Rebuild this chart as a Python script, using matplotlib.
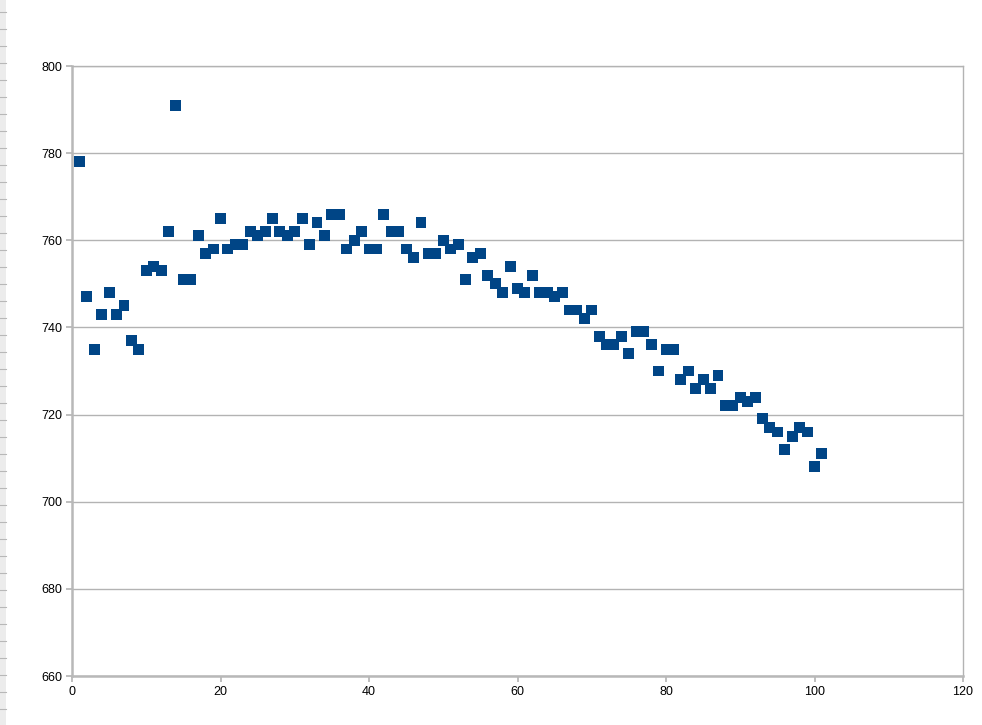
import matplotlib
matplotlib.use("Agg")
import matplotlib.pyplot as plt
from matplotlib.patches import Rectangle
from matplotlib.lines import Line2D

plt.rcParams['font.family'] = ['Liberation Sans', 'DejaVu Sans']

#
# data
#
x_values = list(range(1, 102))
y_values = [
    778, 747, 735, 743, 748, 743, 745, 737, 735, 753,
    754, 753, 762, 791, 751, 751, 761, 757, 758, 765,
    758, 759, 759, 762, 761, 762, 765, 762, 761, 762,
    765, 759, 764, 761, 766, 766, 758, 760, 762, 758,
    758, 766, 762, 762, 758, 756, 764, 757, 757, 760,
    758, 759, 751, 756, 757, 752, 750, 748, 754, 749,
    748, 752, 748, 748, 747, 748, 744, 744, 742, 744,
    738, 736, 736, 738, 734, 739, 739, 736, 730, 735,
    735, 728, 730, 726, 728, 726, 729, 722, 722, 724,
    723, 724, 719, 717, 716, 712, 715, 717, 716, 708,
    711,
]
x_ticks = [0, 20, 40, 60, 80, 100, 120]
y_ticks = [660, 680, 700, 720, 740, 760, 780, 800]

W, H = 982, 725
fig = plt.figure(figsize=(W / 100, H / 100), dpi=100)
fig.patch.set_facecolor("white")

# spreadsheet row-header strip on the far left
fig.add_artist(Rectangle((0, 0), 6 / W, 1, transform=fig.transFigure,
                         facecolor="#ececec", edgecolor="none"))
for py in range(12, H, 17):
    fig.add_artist(Line2D([0, 6 / W], [1 - py / H, 1 - py / H],
                          transform=fig.transFigure, color="#b8b8b8", lw=0.8))

ax = fig.add_axes([72 / W, 1 - 676 / H, (963 - 72) / W, (676 - 66) / H])

ax.scatter(x_values, y_values, marker="s", s=62, color="#004586",
           edgecolors="none", zorder=3, clip_on=False)

ax.set_xlim(0, 120)
ax.set_ylim(660, 800)
ax.set_xticks(x_ticks)
ax.set_yticks(y_ticks)

grid_col = "#b3b3b3"
ax.yaxis.grid(True, color=grid_col, lw=1.0)
ax.set_axisbelow(True)
for side in ["top", "right"]:
    ax.spines[side].set_color(grid_col)
    ax.spines[side].set_linewidth(1.0)
for side in ["left", "bottom"]:
    ax.spines[side].set_color("#b8b8b8")
    ax.spines[side].set_linewidth(1.8)

ax.tick_params(axis="both", direction="out", length=4, width=1.2,
               color=grid_col, labelsize=9, labelcolor="black")
ax.tick_params(axis="x", pad=3)
ax.tick_params(axis="y", pad=3)

fig.savefig("out.png", dpi=100)
